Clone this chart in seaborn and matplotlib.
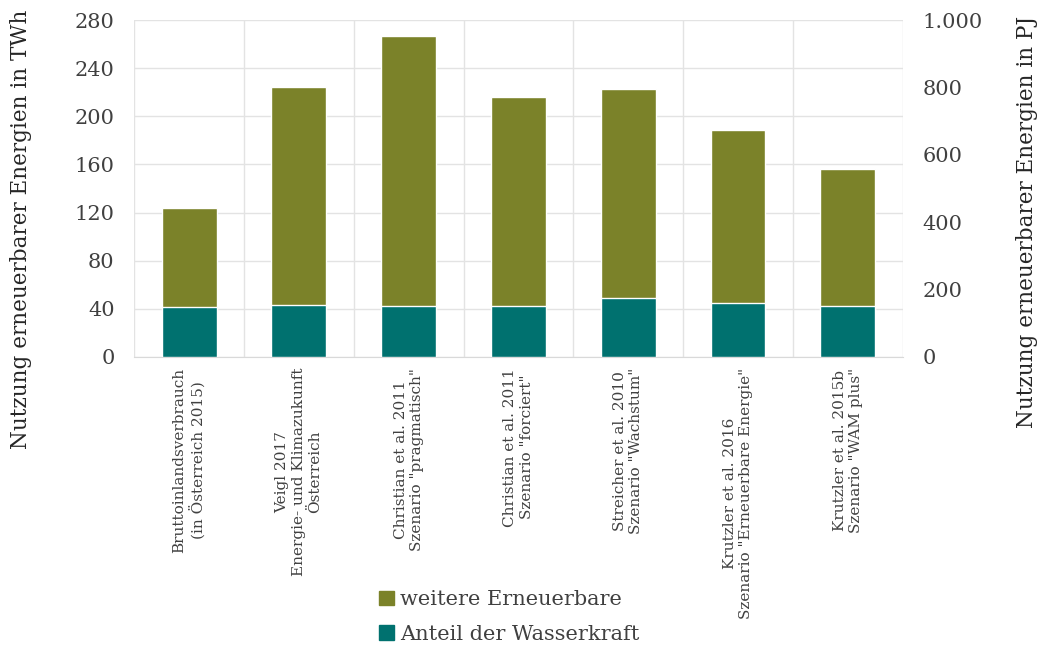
import numpy as np
import pandas as pd
import matplotlib
matplotlib.use("Agg")
import matplotlib.pyplot as plt
import seaborn as sns
from matplotlib.patches import Patch
from matplotlib.ticker import FuncFormatter

# data (TWh)
categories = [
    "Bruttoinlandsverbrauch\n(in Österreich 2015)",
    "Veigl 2017\nEnergie- und Klimazukunft\nÖsterreich",
    "Christian et al. 2011\nSzenario \"pragmatisch\"",
    "Christian et al. 2011\nSzenario \"forciert\"",
    "Streicher et al. 2010\nSzenario \"Wachstum\"",
    "Krutzler et al. 2016\nSzenario \"Erneuerbare Energie\"",
    "Krutzler et al. 2015b\nSzenario \"WAM plus\"",
]
wasserkraft = [41, 43, 42, 42, 49, 45, 42]
gesamt = [124, 224, 267, 216, 223, 189, 156]
y_ticks = [0, 40, 80, 120, 160, 200, 240, 280]
pj_ticks = [0, 200, 400, 600, 800, 1000]

OLIVE = "#7b8229"
TEAL = "#00716f"

df = pd.DataFrame({"Kategorie": categories, "Wasserkraft": wasserkraft, "Gesamt": gesamt})

sns.set_style("white")
plt.rcParams["font.family"] = ["DejaVu Serif"]
plt.rcParams["text.color"] = "#404040"

fig = plt.figure(figsize=(10.4, 6.51), dpi=100)
ax = fig.add_axes([0.129, 0.452, 0.739, 0.517])

# stacked look: total first, hydro drawn over it
sns.barplot(data=df, x="Kategorie", y="Gesamt", color=OLIVE, width=0.5,
            saturation=1, ax=ax, zorder=3)
sns.barplot(data=df, x="Kategorie", y="Wasserkraft", color=TEAL, width=0.5,
            saturation=1, ax=ax, zorder=4)

ax.set_xlim(-0.5, len(categories) - 0.5)
ax.set_ylim(0, 280)
ax.set_yticks(y_ticks)
ax.set_ylabel("Nutzung erneuerbarer Energien in TWh", fontsize=15.5, color="#262626")
ax.yaxis.set_label_coords(-0.133, 0.38)
ax.set_xlabel("")
ax.tick_params(axis="y", length=0, labelsize=15, labelcolor="#404040", pad=14)

ax.set_xticks(range(len(categories)))
ax.set_xticklabels(categories, rotation=90, fontsize=11, ha="center", va="top",
                   multialignment="center", color="#404040")
ax.tick_params(axis="x", which="major", length=0, pad=8)
ax.set_xticks(np.arange(-0.5, len(categories), 1), minor=True)
ax.tick_params(axis="x", which="minor", length=5, color="#d9d9d9")

ax.grid(axis="y", color="#e3e3e3", linewidth=1, zorder=0)
ax.grid(axis="x", which="minor", color="#e3e3e3", linewidth=1, zorder=0)
ax.grid(axis="x", which="major", visible=False)
for s in ["top", "left", "right"]:
    ax.spines[s].set_visible(False)
ax.spines["bottom"].set_color("#d9d9d9")

# secondary axis in PJ
ax2 = ax.twinx()
ax2.set_ylim(0, 1000)
ax2.set_yticks(pj_ticks)
ax2.yaxis.set_major_formatter(FuncFormatter(lambda v, p: f"{int(v):,}".replace(",", ".")))
ax2.tick_params(axis="y", length=0, labelsize=15, labelcolor="#404040", pad=14)
ax2.set_ylabel("Nutzung erneuerbarer Energien in PJ", fontsize=15.5, color="#262626")
ax2.yaxis.set_label_coords(1.148, 0.40)
for s in ax2.spines.values():
    s.set_visible(False)

handles = [Patch(color=OLIVE, label="weitere Erneuerbare"),
           Patch(color=TEAL, label="Anteil der Wasserkraft")]
fig.legend(handles=handles, loc="center", bbox_to_anchor=(0.49, 0.052), frameon=False,
           fontsize=15, handlelength=0.7, handleheight=0.7, handletextpad=0.3,
           labelspacing=0.75)

fig.savefig("out.png", dpi=100)
